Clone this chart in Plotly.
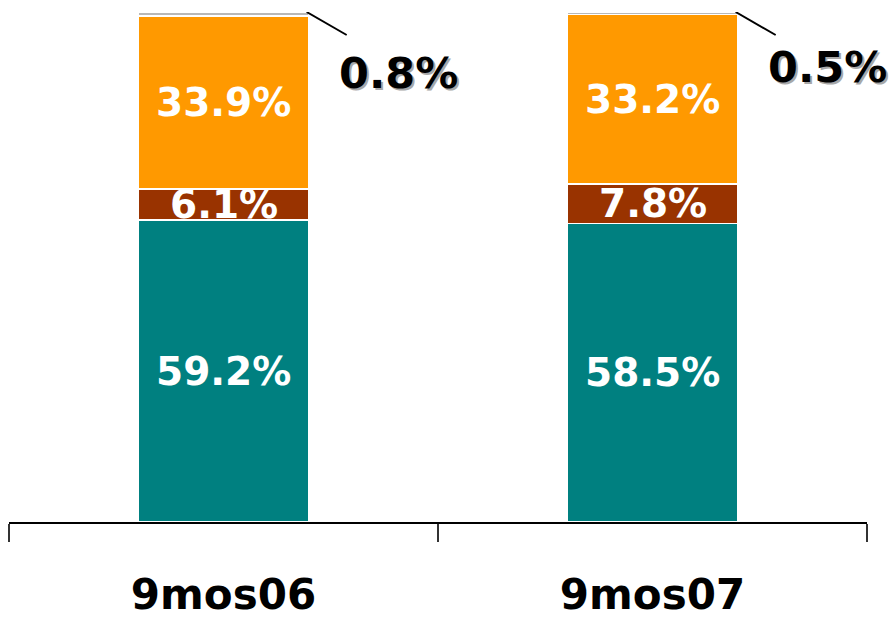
import plotly.graph_objects as go

categories = ["9mos06", "9mos07"]
seg_teal = [59.2, 58.5]
seg_brown = [6.1, 7.8]
seg_orange = [33.9, 33.2]
seg_gray = [0.8, 0.5]
labels_teal = ["59.2%", "58.5%"]
labels_brown = ["6.1%", "7.8%"]
labels_orange = ["33.9%", "33.2%"]
labels_gray = ["0.8%", "0.5%"]

BAR_W = 0.397
OUT_LABEL_DY = [-61, -55]
series = [
    (seg_teal, labels_teal, "#008080"),
    (seg_brown, labels_brown, "#993300"),
    (seg_orange, labels_orange, "#FF9900"),
    (seg_gray, labels_gray, "#B8B8B8"),
]

fig = go.Figure()
for vals, labs, col in series:
    fig.add_trace(go.Bar(
        x=categories, y=vals, width=BAR_W,
        marker=dict(color=col, line=dict(color="white", width=1.5)),
        hoverinfo="skip", showlegend=False,
    ))

annotations = []
shapes = []
for i, cat in enumerate(categories):
    base = 0.0
    for vals, labs, col in series[:3]:
        v = vals[i]
        annotations.append(dict(
            x=i, y=base + v / 2, xref="x", yref="y", text=labs[i],
            showarrow=False,
            font=dict(family="DejaVu Sans", size=39, color="white", weight="bold"),
        ))
        base += v
    total = base + seg_gray[i]
    # leader line
    shapes.append(dict(
        type="line", xref="x", yref="y",
        xsizemode="pixel", ysizemode="pixel",
        xanchor=i + BAR_W / 2, yanchor=total,
        x0=-2, y0=0, x1=38, y1=-23,
        line=dict(color="black", width=2),
    ))
    annotations.append(dict(
        x=i + BAR_W / 2, y=total, xref="x", yref="y",
        text='<span style="text-shadow: 2px 2px 0px #A8A8A8">' + labels_gray[i] + "</span>",
        showarrow=False,
        xanchor="left", yanchor="middle",
        xshift=28, yshift=OUT_LABEL_DY[i],
        font=dict(family="DejaVu Sans", size=43, color="black", weight="bold"),
    ))

fig.update_layout(
    width=891, height=622,
    margin=dict(l=9, r=24, t=12, b=100, autoexpand=False),
    paper_bgcolor="white", plot_bgcolor="white",
    barmode="stack",
    annotations=annotations, shapes=shapes,
    xaxis=dict(
        type="category", range=[-0.5, len(categories) - 0.5],
        showline=True, linecolor="black", linewidth=1.5,
        ticks="outside", tickson="boundaries", ticklen=18, tickwidth=1.5,
        tickcolor="#333333", showgrid=False, automargin=False,
        tickfont=dict(family="DejaVu Sans", size=42, color="black", weight="bold"),
        ticklabelstandoff=35,
    ),
    yaxis=dict(range=[0, 100], visible=False, showgrid=False, automargin=False),
)

post = (
    "document.body.style.margin='0';"
    "document.body.style.padding='0';"
    "document.documentElement.style.overflow='hidden';"
    "document.body.style.overflow='hidden';"
)
fig.write_html("out.html", post_script=post, config={"displayModeBar": False})
